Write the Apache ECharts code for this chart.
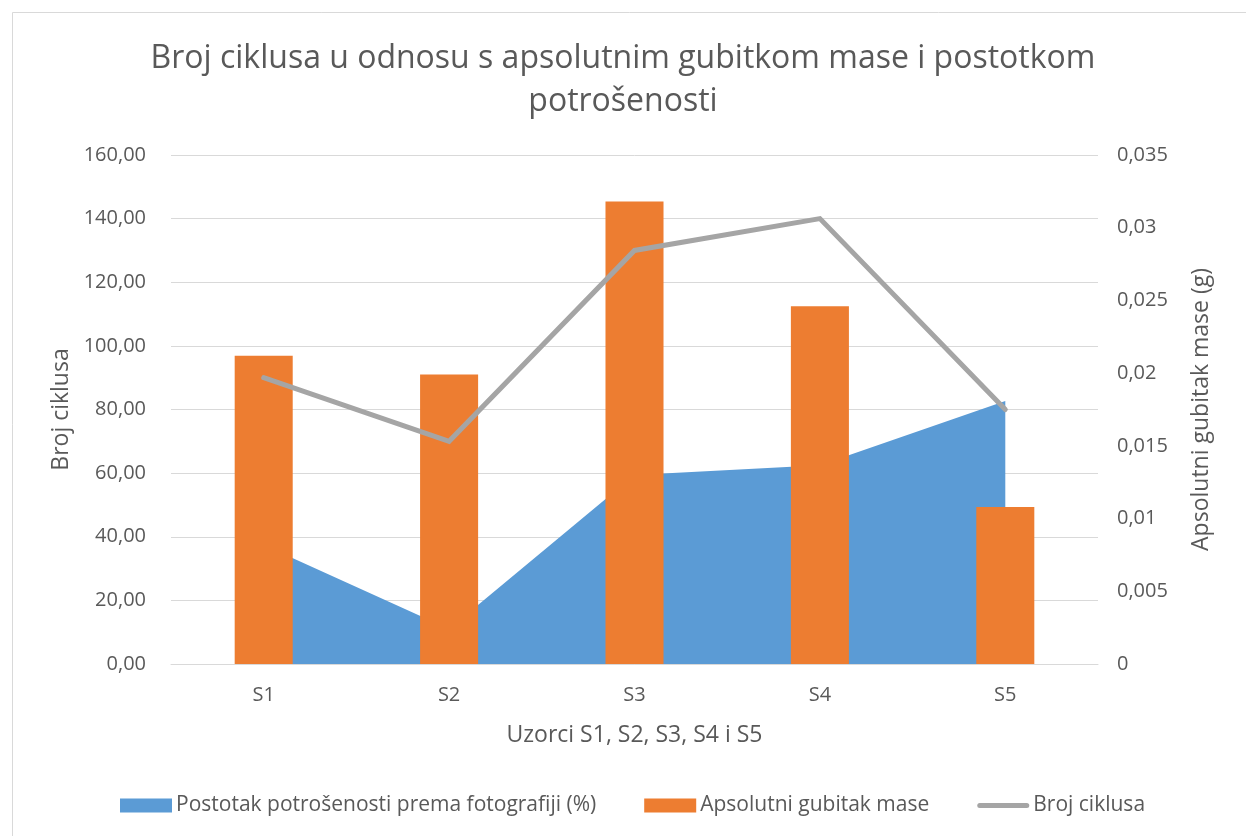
<!DOCTYPE html>
<html>
<head>
<meta charset="utf-8">
<script src="https://cdn.jsdelivr.net/npm/echarts@6/dist/echarts.min.js"></script>
<style>
html,body{margin:0;padding:0;background:#fff;}
#c{width:1246px;height:836px;}
</style>
</head>
<body>
<div id="c"></div>
<script>
var categories = ['S1', 'S2', 'S3', 'S4', 'S5'];
var postotak = [37.4, 11.0, 59.4, 62.5, 82.7];
var gubitak = [0.0212, 0.0199, 0.0318, 0.0246, 0.0108];
var ciklusi = [90, 70, 130, 140, 80];

var FONT = 'Open Sans';
var TXT = '#595959';
var chart = echarts.init(document.getElementById('c'), null, {renderer: 'canvas'});
chart.setOption({
  backgroundColor: '#fff',
  textStyle: {fontFamily: FONT},
  graphic: [{
    type: 'rect', left: 10, top: 10, silent: true,
    shape: {x: 0, y: 0, width: 1240, height: 830},
    style: {fill: 'none', stroke: '#D9D9D9', lineWidth: 1}
  }],
  title: {
    text: 'Broj ciklusa u odnosu s apsolutnim gubitkom mase i postotkom\npotrošenosti',
    left: 'center', top: 32,
    textStyle: {fontFamily: FONT, fontSize: 32, fontWeight: 'normal', color: TXT, lineHeight: 43}
  },
  legend: {
    top: 790, left: 115,
    itemWidth: 52, itemHeight: 14, itemGap: 48,
    textStyle: {fontFamily: FONT, fontSize: 21, color: TXT, padding: [0, 0, 0, -1]},
    data: [
      {name: 'Postotak potrošenosti prema fotografiji (%)', icon: 'rect'},
      {name: 'Apsolutni gubitak mase', icon: 'rect'},
      {name: 'Broj ciklusa', icon: 'path://M2.5,0L49.5,0A2.5,2.5,0,0,1,49.5,5L2.5,5A2.5,2.5,0,0,1,2.5,0Z',
       itemStyle: {color: '#A5A5A5'}}
    ]
  },
  grid: {left: 171, right: 148, top: 155, bottom: 172, containLabel: false},
  xAxis: {
    type: 'category', data: categories, boundaryGap: true,
    name: 'Uzorci S1, S2, S3, S4 i S5', nameLocation: 'middle', nameGap: 60,
    nameTextStyle: {fontFamily: FONT, fontSize: 23, color: TXT},
    axisLine: {lineStyle: {color: '#D9D9D9', width: 1}},
    axisTick: {show: false},
    axisLabel: {fontFamily: FONT, fontSize: 20, color: TXT, margin: 21}
  },
  yAxis: [{
    type: 'value', min: 0, max: 160, interval: 20,
    name: 'Broj ciklusa', nameLocation: 'middle', nameGap: 98, nameRotate: 90,
    nameTextStyle: {fontFamily: FONT, fontSize: 23, color: TXT},
    axisLine: {show: false}, axisTick: {show: false},
    splitLine: {lineStyle: {color: '#D9D9D9', width: 1}},
    axisLabel: {fontFamily: FONT, fontSize: 20, color: TXT, margin: 25,
      formatter: function (v) { return v.toFixed(2).replace('.', ','); }}
  }, {
    type: 'value', min: 0, max: 0.035, interval: 0.005,
    name: 'Apsolutni gubitak mase (g)', nameLocation: 'middle', nameGap: 92, nameRotate: 90,
    nameTextStyle: {fontFamily: FONT, fontSize: 23, color: TXT},
    axisLine: {show: false}, axisTick: {show: false},
    splitLine: {show: false},
    axisLabel: {fontFamily: FONT, fontSize: 20, color: TXT, margin: 19,
      formatter: function (v) { return String(parseFloat(v.toFixed(3))).replace('.', ','); }}
  }],
  series: [{
    name: 'Postotak potrošenosti prema fotografiji (%)',
    type: 'line', yAxisIndex: 0, data: postotak,
    symbol: 'none', lineStyle: {width: 0},
    itemStyle: {color: '#5B9BD5'},
    areaStyle: {color: '#5B9BD5', opacity: 1},
    z: 1
  }, {
    name: 'Apsolutni gubitak mase',
    type: 'bar', yAxisIndex: 1, data: gubitak,
    barWidth: '31.3%',
    itemStyle: {color: '#ED7D31'},
    z: 2
  }, {
    name: 'Broj ciklusa',
    type: 'line', yAxisIndex: 0, data: ciklusi,
    symbol: 'none',
    lineStyle: {color: '#A5A5A5', width: 5, cap: 'round', join: 'miter'},
    itemStyle: {color: '#A5A5A5'},
    z: 3
  }]
});
</script>
</body>
</html>
